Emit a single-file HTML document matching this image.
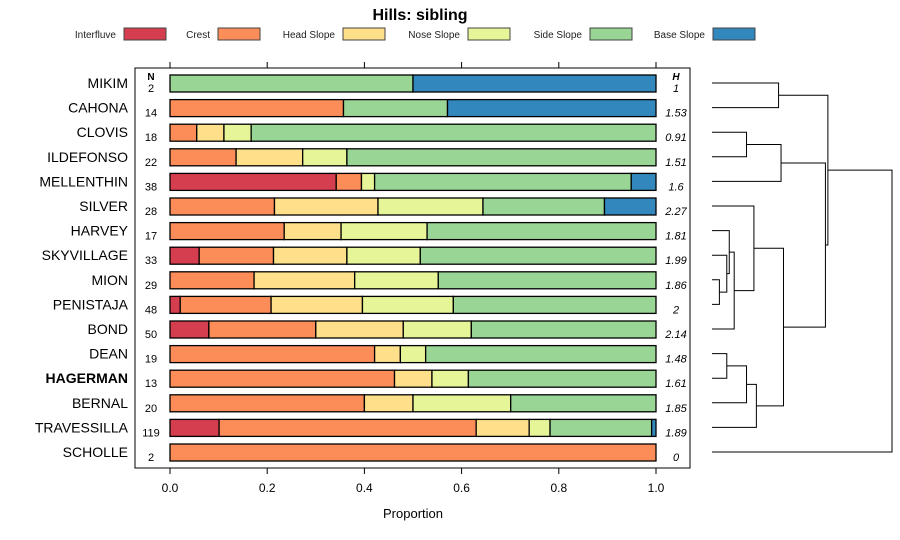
<!DOCTYPE html>
<html><head><meta charset="utf-8"><style>
body{margin:0;background:#fff;}
svg{display:block;font-family:"Liberation Sans",sans-serif;}
</style></head><body>
<svg id="chart" width="900" height="540" viewBox="0 0 900 540"></svg>
<script>
const categories=["MIKIM","CAHONA","CLOVIS","ILDEFONSO","MELLENTHIN","SILVER","HARVEY","SKYVILLAGE","MION","PENISTAJA","BOND","DEAN","HAGERMAN","BERNAL","TRAVESSILLA","SCHOLLE"];
const seriesNames=["Interfluve","Crest","Head Slope","Nose Slope","Side Slope","Base Slope"];
const seriesColors=["#D53E4F","#FC8D59","#FEE08B","#E6F598","#99D594","#3288BD"];
const interfluve=[0,0,0,0,0.342,0,0,0.060,0,0.021,0.080,0,0,0,0.101,0];
const crest=[0,0.357,0.055,0.136,0.052,0.215,0.235,0.153,0.173,0.187,0.220,0.421,0.462,0.400,0.529,1];
const headSlope=[0,0,0.056,0.137,0,0.213,0.117,0.151,0.207,0.188,0.180,0.053,0.077,0.100,0.109,0];
const noseSlope=[0,0,0.056,0.091,0.027,0.216,0.177,0.151,0.172,0.187,0.140,0.052,0.075,0.201,0.043,0];
const sideSlope=[0.5,0.214,0.833,0.636,0.528,0.250,0.471,0.485,0.448,0.417,0.380,0.474,0.386,0.299,0.209,0];
const baseSlope=[0.5,0.429,0,0,0.051,0.106,0,0,0,0,0,0,0,0,0.009,0];
const nValues=[2,14,18,22,38,28,17,33,29,48,50,19,13,20,119,2];
const hValues=["1","1.53","0.91","1.51","1.6","2.27","1.81","1.99","1.86","2","2.14","1.48","1.61","1.85","1.89","0"];
const xTicks=[0,0.2,0.4,0.6,0.8,1.0];
const xTickLabels=["0.0","0.2","0.4","0.6","0.8","1.0"];
// dendrogram merges: [childA, childB, height]; leaves are row indices, internal nodes "n#"
const merges=[[0,1,0.27],[2,3,0.14],["n1",4,0.28],[8,9,0.03],[7,"n3",0.06],[6,"n4",0.07],["n5",10,0.09],[5,"n6",0.17],[11,12,0.06],["n8",13,0.14],["n9",14,0.18],["n7","n10",0.29],["n2","n11",0.46],["n0","n12",0.47],["n13",15,0.73]];

const svg=document.getElementById('chart');
const NS="http://www.w3.org/2000/svg";
function mk(tag,attrs,parent){const e=document.createElementNS(NS,tag);for(const k in attrs)e.setAttribute(k,attrs[k]);(parent||svg).appendChild(e);return e;}
const x0=170,x1=656;
const xs=v=>x0+(x1-x0)*v;
const ys=i=>83+i*24.6;
const series=[interfluve,crest,headSlope,noseSlope,sideSlope,baseSlope];

let t=mk('text',{x:420,y:20,'text-anchor':'middle','font-size':16,'font-weight':'bold'});t.textContent="Hills: sibling";



const legX=[124,218,343,468,590,713];
seriesNames.forEach((n,k)=>{
 const g=mk('g',{});
 
 
 const tx=mk('text',{x:legX[k]-8,y:38,'text-anchor':'end','font-size':10,fill:'#222'},g);tx.textContent=n;
 mk('rect',{x:legX[k],y:28,width:42,height:12,fill:seriesColors[k],stroke:'#444','stroke-width':1},g);
});

const panel=mk('rect',{x:135,y:68,width:555,height:400,fill:'none',stroke:'#000','stroke-width':1});



xTicks.forEach((v,k)=>{
 mk('line',{x1:xs(v),x2:xs(v),y1:62,y2:68,stroke:'#000'});
 mk('line',{x1:xs(v),x2:xs(v),y1:468,y2:474,stroke:'#000'});
 const l=mk('text',{x:xs(v),y:492,'text-anchor':'middle','font-size':12});l.textContent=xTickLabels[k];
 
 
});
const xt=mk('text',{x:413,y:518,'text-anchor':'middle','font-size':13});xt.textContent="Proportion";



let hN=mk('text',{x:151,y:80,'text-anchor':'middle','font-size':10,'font-weight':'bold'});hN.textContent="N";
let hH=mk('text',{x:676,y:80,'text-anchor':'middle','font-size':10,'font-weight':'bold','font-style':'italic'});hH.textContent="H";

categories.forEach((c,i)=>{
 const y=ys(i);
 const lab=mk('text',{x:128,y:y+5,'text-anchor':'end','font-size':14,'font-weight':c==="HAGERMAN"?'bold':'normal'});lab.textContent=c;
 
 
 const n=mk('text',{x:151,y:y+9,'text-anchor':'middle','font-size':11});n.textContent=nValues[i];
 
 
 const h=mk('text',{x:676,y:y+9,'text-anchor':'middle','font-size':11,'font-style':'italic'});h.textContent=hValues[i];
 
 
 let cum=0;
 series.forEach((s,k)=>{
  const v=s[i]; if(v<=0)return;
  const r=mk('rect',{x:xs(cum),y:y-8,width:xs(cum+v)-xs(cum),height:17,fill:seriesColors[k],stroke:'#000','stroke-width':1.3});
  
  
  cum+=v;
 });
});

// dendrogram
const dx0=712,dx1=892,maxH=0.73;
const dxs=h=>dx0+(dx1-dx0)*h/maxH;
const nodes={};
function pos(c){return typeof c==='number'?{x:dx0,y:ys(c)}:nodes[c];}
merges.forEach((m,k)=>{
 const a=pos(m[0]),b=pos(m[1]),hx=dxs(m[2]);
 const p=mk('path',{d:`M${a.x},${a.y}H${hx}V${b.y}H${b.x}`,fill:'none',stroke:'#000','stroke-width':1});
 
 
 nodes['n'+k]={x:hx,y:(a.y+b.y)/2};
});
</script>
</body></html>
